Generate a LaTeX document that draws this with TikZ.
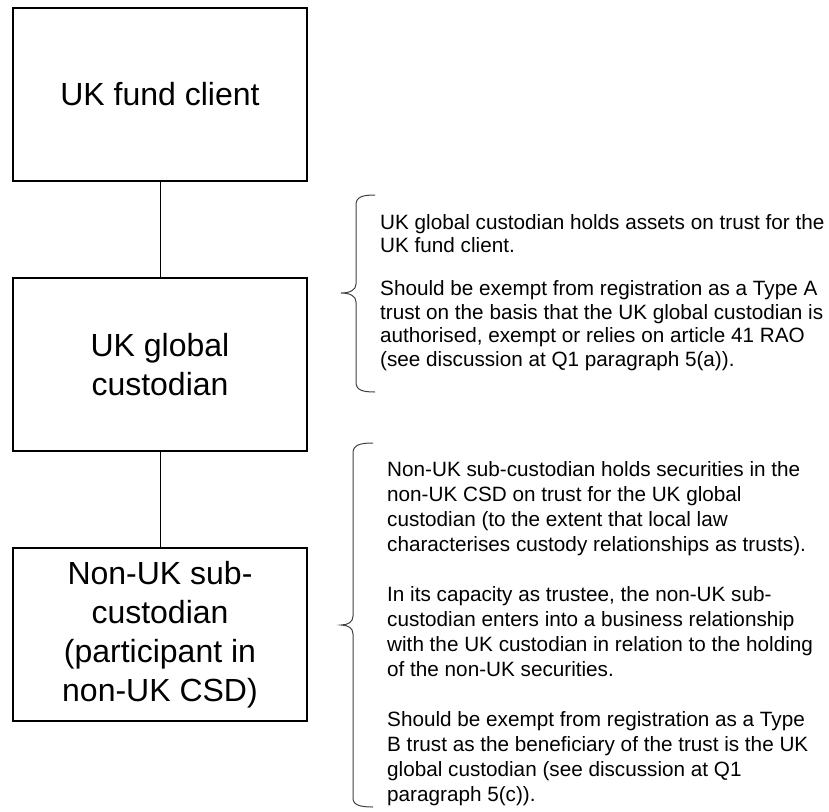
\documentclass[tikz,border=0pt]{standalone}
\usepackage{fontspec}
\setmainfont{Liberation Sans}
\begin{document}
\begin{tikzpicture}[x=1pt,y=-1pt,
 boxnode/.style={draw=black,line width=2pt,minimum width=294pt,minimum height=173pt,inner sep=0pt,align=center,font=\fontsize{32}{39}\selectfont},
 link/.style={draw=black,line width=1pt},
 bracepath/.style={draw=black!75,line width=1pt},
 note/.style={anchor=base west,inner sep=0pt}]
\useasboundingbox (0,0) rectangle (829,811);
\node[boxnode] (b1) at (160,94.5) {UK fund client};
\node[boxnode] (b2) at (160,364.5) {UK global\\custodian};
\node[boxnode] (b3) at (160,634.5) {Non-UK sub-\\custodian\\(participant in\\non-UK CSD)};
\draw[link] (b1) -- (b2);
\draw[link] (b2) -- (b3);
% brace 1
\draw[bracepath] (375,195) .. controls (362,195) and (356,197) .. (356,205)
  -- (356,284) .. controls (356,290) and (350,293) .. (341,293)
  .. controls (350,293) and (356,296) .. (356,302)
  -- (356,382) .. controls (356,390) and (362,392) .. (375,392);
% brace 2
\draw[bracepath] (373,443) .. controls (360,443) and (353,445) .. (353,453)
  -- (353,616) .. controls (353,622) and (348,625) .. (341,625)
  .. controls (348,625) and (353,628) .. (353,634)
  -- (353,798) .. controls (353,805) and (360,807) .. (373,807);
\node[note] (t1) at (380,229) {\vtop{\hsize=600pt\fontsize{20.7}{23.5}\selectfont\raggedright\noindent
UK global custodian holds assets on trust for the\\
UK fund client.\\[19.5pt]
Should be exempt from registration as a Type A\\
trust on the basis that the UK global custodian is\\
authorised, exempt or relies on article 41 RAO\\
(see discussion at Q1 paragraph 5(a)).}};
\node[note] (t2) at (387,476) {\vtop{\hsize=600pt\fontsize{20.7}{25}\selectfont\raggedright\noindent
Non-UK sub-custodian holds securities in the\\
non-UK CSD on trust for the UK global\\
custodian (to the extent that local law\\
characterises custody relationships as trusts).\\[25pt]
In its capacity as trustee, the non-UK sub-\\
custodian enters into a business relationship\\
with the UK custodian in relation to the holding\\
of the non-UK securities.\\[25pt]
Should be exempt from registration as a Type\\
B trust as the beneficiary of the trust is the UK\\
global custodian (see discussion at Q1\\
paragraph 5(c)).}};
\end{tikzpicture}
\end{document}
